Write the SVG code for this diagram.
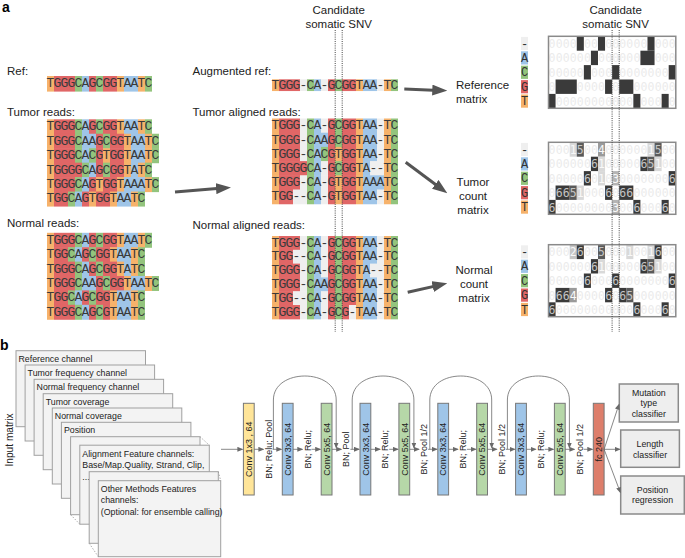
<svg xmlns="http://www.w3.org/2000/svg" width="685" height="558" viewBox="0 0 685 558">
<style>
text{font-family:"Liberation Sans",Arial,Helvetica,sans-serif;fill:#222}
.lbl{font-size:11.5px}
.hd{font-size:14px;font-weight:bold;fill:#000}
.seq{font-family:"Liberation Mono","Courier New",monospace;font-size:13px;letter-spacing:-0.8px;fill:#3a3a3a}
.t{fill:#f6b26b}.g{fill:#e06666}.c{fill:#93c47d}.a{fill:#9fc5e8}.d{fill:#efefef}
.mx{font-family:"DejaVu Sans Mono",monospace;font-size:11.5px;fill:#ebebeb;text-anchor:middle}
.nd{fill:#c4c4c4}.nl{fill:#f8f8f8}
.m1{fill:#d9d9d9}.m2{fill:#c6c6c6}.m3{fill:#b5b5b5}.m4{fill:#9a9a9a}.m5{fill:#5a5a5a}.m6{fill:#3a3a3a}
.frame{fill:none;stroke:#8a8a8a;stroke-width:1.5}
.rl{font-family:"Liberation Mono","Courier New",monospace;font-size:12px;fill:#333;text-anchor:middle}
.dot{stroke:#444;stroke-width:1;stroke-dasharray:1 1.2;fill:none}
.big{stroke:#555;stroke-width:3;fill:none;marker-end:url(#bh)}
.thin{stroke:#6a6a6a;stroke-width:0.8;fill:none;marker-end:url(#th)}
.card{fill:#f3f3f3;stroke:#a0a0a0;stroke-width:1}
.ct{font-size:8.8px}
.nt{font-size:9px;text-anchor:middle}
.out{fill:#eeeeee;stroke:#8a8a8a;stroke-width:1.5}
.diag{stroke:#999;stroke-width:0.8;stroke-dasharray:1.5 1.5;fill:none}
.cv{stroke:#777;stroke-width:1}
.y{fill:#ffe599}.b3{fill:#9fc5e8}.g5{fill:#b6d7a8}.fc{fill:#dd7e6b}
.oc{font-size:8.8px;text-anchor:middle}
.mid{text-anchor:middle}
.side{font-size:10.2px;text-anchor:middle}
</style>
<defs>
<marker id="bh" markerUnits="userSpaceOnUse" markerWidth="15" markerHeight="11" refX="7" refY="5.5" orient="auto"><path d="M0,0L15,5.5L0,11z" fill="#555"/></marker>
<marker id="th" markerUnits="userSpaceOnUse" markerWidth="6" markerHeight="5" refX="5" refY="2.5" orient="auto"><path d="M0,0L6,2.5L0,5z" fill="#6a6a6a"/></marker>
<g id="pRef"><rect class="t" x="0" width="1" height="1.04"/><rect class="g" x="1" width="3" height="1.04"/><rect class="c" x="4" width="1" height="1.04"/><rect class="a" x="5" width="1" height="1.04"/><rect class="g" x="6" width="1" height="1.04"/><rect class="c" x="7" width="1" height="1.04"/><rect class="g" x="8" width="2" height="1.04"/><rect class="t" x="10" width="1" height="1.04"/><rect class="a" x="11" width="2" height="1.04"/><rect class="t" x="13" width="1" height="1.04"/><rect class="c" x="14" width="1" height="1.04"/></g>
<g id="pT2"><rect class="t" x="0" width="1" height="1.04"/><rect class="g" x="1" width="3" height="1.04"/><rect class="c" x="4" width="1" height="1.04"/><rect class="a" x="5" width="2" height="1.04"/><rect class="g" x="7" width="1" height="1.04"/><rect class="c" x="8" width="1" height="1.04"/><rect class="g" x="9" width="2" height="1.04"/><rect class="t" x="11" width="1" height="1.04"/><rect class="a" x="12" width="2" height="1.04"/><rect class="t" x="14" width="1" height="1.04"/><rect class="c" x="15" width="1" height="1.04"/></g>
<g id="pT3"><rect class="t" x="0" width="1" height="1.04"/><rect class="g" x="1" width="3" height="1.04"/><rect class="c" x="4" width="1" height="1.04"/><rect class="a" x="5" width="1" height="1.04"/><rect class="c" x="6" width="1" height="1.04"/><rect class="g" x="7" width="1" height="1.04"/><rect class="t" x="8" width="1" height="1.04"/><rect class="g" x="9" width="2" height="1.04"/><rect class="t" x="11" width="1" height="1.04"/><rect class="a" x="12" width="2" height="1.04"/><rect class="t" x="14" width="1" height="1.04"/><rect class="c" x="15" width="1" height="1.04"/></g>
<g id="pT4"><rect class="t" x="0" width="1" height="1.04"/><rect class="g" x="1" width="4" height="1.04"/><rect class="c" x="5" width="1" height="1.04"/><rect class="a" x="6" width="1" height="1.04"/><rect class="g" x="7" width="1" height="1.04"/><rect class="c" x="8" width="1" height="1.04"/><rect class="g" x="9" width="2" height="1.04"/><rect class="t" x="11" width="1" height="1.04"/><rect class="a" x="12" width="1" height="1.04"/><rect class="t" x="13" width="1" height="1.04"/><rect class="c" x="14" width="1" height="1.04"/></g>
<g id="pT5"><rect class="t" x="0" width="1" height="1.04"/><rect class="g" x="1" width="3" height="1.04"/><rect class="c" x="4" width="1" height="1.04"/><rect class="a" x="5" width="1" height="1.04"/><rect class="g" x="6" width="1" height="1.04"/><rect class="t" x="7" width="1" height="1.04"/><rect class="g" x="8" width="2" height="1.04"/><rect class="t" x="10" width="1" height="1.04"/><rect class="a" x="11" width="3" height="1.04"/><rect class="t" x="14" width="1" height="1.04"/><rect class="c" x="15" width="1" height="1.04"/></g>
<g id="pT6"><rect class="t" x="0" width="1" height="1.04"/><rect class="g" x="1" width="2" height="1.04"/><rect class="c" x="3" width="1" height="1.04"/><rect class="a" x="4" width="1" height="1.04"/><rect class="g" x="5" width="1" height="1.04"/><rect class="t" x="6" width="1" height="1.04"/><rect class="g" x="7" width="2" height="1.04"/><rect class="t" x="9" width="1" height="1.04"/><rect class="a" x="10" width="2" height="1.04"/><rect class="t" x="12" width="1" height="1.04"/><rect class="c" x="13" width="1" height="1.04"/></g>
<g id="pN2"><rect class="t" x="0" width="1" height="1.04"/><rect class="g" x="1" width="2" height="1.04"/><rect class="c" x="3" width="1" height="1.04"/><rect class="a" x="4" width="1" height="1.04"/><rect class="g" x="5" width="1" height="1.04"/><rect class="c" x="6" width="1" height="1.04"/><rect class="g" x="7" width="2" height="1.04"/><rect class="t" x="9" width="1" height="1.04"/><rect class="a" x="10" width="2" height="1.04"/><rect class="t" x="12" width="1" height="1.04"/><rect class="c" x="13" width="1" height="1.04"/></g>
<g id="pN3"><rect class="t" x="0" width="1" height="1.04"/><rect class="g" x="1" width="3" height="1.04"/><rect class="c" x="4" width="1" height="1.04"/><rect class="a" x="5" width="1" height="1.04"/><rect class="g" x="6" width="1" height="1.04"/><rect class="c" x="7" width="1" height="1.04"/><rect class="g" x="8" width="2" height="1.04"/><rect class="t" x="10" width="1" height="1.04"/><rect class="a" x="11" width="1" height="1.04"/><rect class="t" x="12" width="1" height="1.04"/><rect class="c" x="13" width="1" height="1.04"/></g>
<g id="pN6"><rect class="t" x="0" width="1" height="1.04"/><rect class="g" x="1" width="3" height="1.04"/><rect class="c" x="4" width="1" height="1.04"/><rect class="a" x="5" width="1" height="1.04"/><rect class="g" x="6" width="1" height="1.04"/><rect class="c" x="7" width="1" height="1.04"/><rect class="g" x="8" width="1" height="1.04"/><rect class="t" x="9" width="1" height="1.04"/><rect class="a" x="10" width="2" height="1.04"/><rect class="t" x="12" width="1" height="1.04"/><rect class="c" x="13" width="1" height="1.04"/></g>
<g id="mRef"><rect class="t" x="0" width="1" height="1.04"/><rect class="g" x="1" width="3" height="1.04"/><rect class="d" x="4" width="1" height="1.04"/><rect class="c" x="5" width="1" height="1.04"/><rect class="a" x="6" width="1" height="1.04"/><rect class="d" x="7" width="1" height="1.04"/><rect class="g" x="8" width="1" height="1.04"/><rect class="c" x="9" width="1" height="1.04"/><rect class="g" x="10" width="2" height="1.04"/><rect class="t" x="12" width="1" height="1.04"/><rect class="a" x="13" width="2" height="1.04"/><rect class="d" x="15" width="1" height="1.04"/><rect class="t" x="16" width="1" height="1.04"/><rect class="c" x="17" width="1" height="1.04"/></g>
<g id="mT2"><rect class="t" x="0" width="1" height="1.04"/><rect class="g" x="1" width="3" height="1.04"/><rect class="d" x="4" width="1" height="1.04"/><rect class="c" x="5" width="1" height="1.04"/><rect class="a" x="6" width="2" height="1.04"/><rect class="g" x="8" width="1" height="1.04"/><rect class="c" x="9" width="1" height="1.04"/><rect class="g" x="10" width="2" height="1.04"/><rect class="t" x="12" width="1" height="1.04"/><rect class="a" x="13" width="2" height="1.04"/><rect class="d" x="15" width="1" height="1.04"/><rect class="t" x="16" width="1" height="1.04"/><rect class="c" x="17" width="1" height="1.04"/></g>
<g id="mT3"><rect class="t" x="0" width="1" height="1.04"/><rect class="g" x="1" width="3" height="1.04"/><rect class="d" x="4" width="1" height="1.04"/><rect class="c" x="5" width="1" height="1.04"/><rect class="a" x="6" width="1" height="1.04"/><rect class="c" x="7" width="1" height="1.04"/><rect class="g" x="8" width="1" height="1.04"/><rect class="t" x="9" width="1" height="1.04"/><rect class="g" x="10" width="2" height="1.04"/><rect class="t" x="12" width="1" height="1.04"/><rect class="a" x="13" width="2" height="1.04"/><rect class="d" x="15" width="1" height="1.04"/><rect class="t" x="16" width="1" height="1.04"/><rect class="c" x="17" width="1" height="1.04"/></g>
<g id="mT4"><rect class="t" x="0" width="1" height="1.04"/><rect class="g" x="1" width="4" height="1.04"/><rect class="c" x="5" width="1" height="1.04"/><rect class="a" x="6" width="1" height="1.04"/><rect class="d" x="7" width="1" height="1.04"/><rect class="g" x="8" width="1" height="1.04"/><rect class="c" x="9" width="1" height="1.04"/><rect class="g" x="10" width="2" height="1.04"/><rect class="t" x="12" width="1" height="1.04"/><rect class="a" x="13" width="1" height="1.04"/><rect class="d" x="14" width="2" height="1.04"/><rect class="t" x="16" width="1" height="1.04"/><rect class="c" x="17" width="1" height="1.04"/></g>
<g id="mT5"><rect class="t" x="0" width="1" height="1.04"/><rect class="g" x="1" width="3" height="1.04"/><rect class="d" x="4" width="1" height="1.04"/><rect class="c" x="5" width="1" height="1.04"/><rect class="a" x="6" width="1" height="1.04"/><rect class="d" x="7" width="1" height="1.04"/><rect class="g" x="8" width="1" height="1.04"/><rect class="t" x="9" width="1" height="1.04"/><rect class="g" x="10" width="2" height="1.04"/><rect class="t" x="12" width="1" height="1.04"/><rect class="a" x="13" width="3" height="1.04"/><rect class="t" x="16" width="1" height="1.04"/><rect class="c" x="17" width="1" height="1.04"/></g>
<g id="mT6"><rect class="t" x="0" width="1" height="1.04"/><rect class="g" x="1" width="2" height="1.04"/><rect class="d" x="3" width="2" height="1.04"/><rect class="c" x="5" width="1" height="1.04"/><rect class="a" x="6" width="1" height="1.04"/><rect class="d" x="7" width="1" height="1.04"/><rect class="g" x="8" width="1" height="1.04"/><rect class="t" x="9" width="1" height="1.04"/><rect class="g" x="10" width="2" height="1.04"/><rect class="t" x="12" width="1" height="1.04"/><rect class="a" x="13" width="2" height="1.04"/><rect class="d" x="15" width="1" height="1.04"/><rect class="t" x="16" width="1" height="1.04"/><rect class="c" x="17" width="1" height="1.04"/></g>
<g id="mN2"><rect class="t" x="0" width="1" height="1.04"/><rect class="g" x="1" width="2" height="1.04"/><rect class="d" x="3" width="2" height="1.04"/><rect class="c" x="5" width="1" height="1.04"/><rect class="a" x="6" width="1" height="1.04"/><rect class="d" x="7" width="1" height="1.04"/><rect class="g" x="8" width="1" height="1.04"/><rect class="c" x="9" width="1" height="1.04"/><rect class="g" x="10" width="2" height="1.04"/><rect class="t" x="12" width="1" height="1.04"/><rect class="a" x="13" width="2" height="1.04"/><rect class="d" x="15" width="1" height="1.04"/><rect class="t" x="16" width="1" height="1.04"/><rect class="c" x="17" width="1" height="1.04"/></g>
<g id="mN3"><rect class="t" x="0" width="1" height="1.04"/><rect class="g" x="1" width="3" height="1.04"/><rect class="d" x="4" width="1" height="1.04"/><rect class="c" x="5" width="1" height="1.04"/><rect class="a" x="6" width="1" height="1.04"/><rect class="d" x="7" width="1" height="1.04"/><rect class="g" x="8" width="1" height="1.04"/><rect class="c" x="9" width="1" height="1.04"/><rect class="g" x="10" width="2" height="1.04"/><rect class="t" x="12" width="1" height="1.04"/><rect class="a" x="13" width="1" height="1.04"/><rect class="d" x="14" width="2" height="1.04"/><rect class="t" x="16" width="1" height="1.04"/><rect class="c" x="17" width="1" height="1.04"/></g>
<g id="mN6"><rect class="t" x="0" width="1" height="1.04"/><rect class="g" x="1" width="3" height="1.04"/><rect class="d" x="4" width="1" height="1.04"/><rect class="c" x="5" width="1" height="1.04"/><rect class="a" x="6" width="1" height="1.04"/><rect class="d" x="7" width="1" height="1.04"/><rect class="g" x="8" width="1" height="1.04"/><rect class="c" x="9" width="1" height="1.04"/><rect class="g" x="10" width="1" height="1.04"/><rect class="d" x="11" width="1" height="1.04"/><rect class="t" x="12" width="1" height="1.04"/><rect class="a" x="13" width="2" height="1.04"/><rect class="d" x="15" width="1" height="1.04"/><rect class="t" x="16" width="1" height="1.04"/><rect class="c" x="17" width="1" height="1.04"/></g>
</defs>
<rect width="685" height="558" fill="#fff"/>

<text class="hd" x="2" y="12">a</text>
<text class="hd" x="0" y="350">b</text>

<g id="ref-reads">
<text class="lbl" x="7" y="74.5">Ref:</text>
<g transform="translate(47,76) scale(7,15)"><use href="#pRef"/></g>
<text class="seq" x="46.6" y="87.2">TGGGCAGCGGTAATC</text>
</g>

<g id="tumor-reads">
<text class="lbl" x="7" y="116.3">Tumor reads:</text>
<g transform="translate(47,119.3) scale(7,14.45)"><use href="#pRef"/><use href="#pT2" y="1"/><use href="#pT3" y="2"/><use href="#pT4" y="3"/><use href="#pT5" y="4"/><use href="#pT6" y="5"/></g>
<text class="seq" x="46.6" y="130.2">TGGGCAGCGGTAATC</text>
<text class="seq" x="46.6" y="144.65">TGGGCAAGCGGTAATC</text>
<text class="seq" x="46.6" y="159.1">TGGGCACGTGGTAATC</text>
<text class="seq" x="46.6" y="173.55">TGGGGCAGCGGTATC</text>
<text class="seq" x="46.6" y="188">TGGGCAGTGGTAAATC</text>
<text class="seq" x="46.6" y="202.45">TGGCAGTGGTAATC</text>
</g>

<g id="normal-reads">
<text class="lbl" x="7" y="227.4">Normal reads:</text>
<g transform="translate(47,232.8) scale(7,14.4)"><use href="#pRef"/><use href="#pN2" y="1"/><use href="#pN3" y="2"/><use href="#pT2" y="3"/><use href="#pN2" y="4"/><use href="#pN6" y="5"/></g>
<text class="seq" x="46.6" y="243.7">TGGGCAGCGGTAATC</text>
<text class="seq" x="46.6" y="258.1">TGGCAGCGGTAATC</text>
<text class="seq" x="46.6" y="272.5">TGGGCAGCGGTATC</text>
<text class="seq" x="46.6" y="286.9">TGGGCAAGCGGTAATC</text>
<text class="seq" x="46.6" y="301.3">TGGCAGCGGTAATC</text>
<text class="seq" x="46.6" y="315.7">TGGGCAGCGTAATC</text>
</g>

<g id="augmented-ref">
<text class="lbl" x="192.5" y="74.5">Augmented ref:</text>
<g transform="translate(272,79.3) scale(7,11.3)"><use href="#mRef"/></g>
<text class="seq" x="271.6" y="88.7">TGGG-CA-GCGGTAA-TC</text>
</g>

<g id="tumor-aligned">
<text class="lbl" x="192.5" y="115.5">Tumor aligned reads:</text>
<g transform="translate(272,118.5) scale(7,14.2)"><use href="#mRef"/><use href="#mT2" y="1"/><use href="#mT3" y="2"/><use href="#mT4" y="3"/><use href="#mT5" y="4"/><use href="#mT6" y="5"/></g>
<text class="seq" x="271.6" y="129.3">TGGG-CA-GCGGTAA-TC</text>
<text class="seq" x="271.6" y="143.5">TGGG-CAAGCGGTAA-TC</text>
<text class="seq" x="271.6" y="157.7">TGGG-CACGTGGTAA-TC</text>
<text class="seq" x="271.6" y="171.9">TGGGGCA-GCGGTA--TC</text>
<text class="seq" x="271.6" y="186.1">TGGG-CA-GTGGTAAATC</text>
<text class="seq" x="271.6" y="200.3">TGG--CA-GTGGTAA-TC</text>
</g>

<g id="normal-aligned">
<text class="lbl" x="192.5" y="229">Normal aligned reads:</text>
<g transform="translate(272,236) scale(7,13.8)"><use href="#mRef"/><use href="#mN2" y="1"/><use href="#mN3" y="2"/><use href="#mT2" y="3"/><use href="#mN2" y="4"/><use href="#mN6" y="5"/></g>
<text class="seq" x="271.6" y="246.6">TGGG-CA-GCGGTAA-TC</text>
<text class="seq" x="271.6" y="260.4">TGG--CA-GCGGTAA-TC</text>
<text class="seq" x="271.6" y="274.2">TGGG-CA-GCGGTA--TC</text>
<text class="seq" x="271.6" y="288">TGGG-CAAGCGGTAA-TC</text>
<text class="seq" x="271.6" y="301.8">TGG--CA-GCGGTAA-TC</text>
<text class="seq" x="271.6" y="315.6">TGGG-CA-GCG-TAA-TC</text>
</g>

<g id="reference-matrix">
<g transform="translate(548.5,36.3) scale(7.07,14.4)" class="m6"><rect x="4" y="0" width="1" height="1"/><rect x="7" y="0" width="1" height="1"/><rect x="14" y="0" width="1" height="1"/><rect x="6" y="1" width="1" height="1"/><rect x="13" y="1" width="2" height="1"/><rect x="5" y="2" width="1" height="1"/><rect x="9" y="2" width="1" height="1"/><rect x="17" y="2" width="1" height="1"/><rect x="1" y="3" width="3" height="1"/><rect x="8" y="3" width="1" height="1"/><rect x="10" y="3" width="2" height="1"/><rect x="0" y="4" width="1" height="1"/><rect x="12" y="4" width="1" height="1"/><rect x="16" y="4" width="1" height="1"/></g>
<text class="mx" y="47.9" x="552 559.1 566.2 573.3 587.4 594.5 608.6 615.7 622.7 629.8 636.9 643.9 658.1 665.2 672.2">000000000000000</text>
<text class="mx" y="62.3" x="552 559.1 566.2 573.3 580.3 587.4 601.5 608.6 615.7 622.7 629.8 636.9 658.1 665.2 672.2">000000000000000</text>
<text class="mx" y="76.7" x="552 559.1 566.2 573.3 580.3 594.5 601.5 608.6 622.7 629.8 636.9 643.9 651 658.1 665.2">000000000000000</text>
<text class="mx" y="91.1" x="552 580.3 587.4 594.5 601.5 615.7 636.9 643.9 651 658.1 665.2 672.2">000000000000</text>
<text class="mx" y="105.5" x="559.1 566.2 573.3 580.3 587.4 594.5 601.5 608.6 615.7 622.7 629.8 643.9 651 658.1 672.2">000000000000000</text>
<rect class="frame" x="548.5" y="36.3" width="127.3" height="72"/>
<rect class="d" x="521" y="36.9" width="7" height="13.2"/><rect class="a" x="521" y="51.3" width="7" height="13.2"/><rect class="c" x="521" y="65.7" width="7" height="13.2"/><rect class="g" x="521" y="80.1" width="7" height="13.2"/><rect class="t" x="521" y="94.5" width="7" height="13.2"/>
<text class="rl" x="524.5" y="47.6">-</text><text class="rl" x="524.5" y="62">A</text><text class="rl" x="524.5" y="76.4">C</text><text class="rl" x="524.5" y="90.8">G</text><text class="rl" x="524.5" y="105.2">T</text>
<text class="lbl" x="456" y="89">Reference</text>
<text class="lbl" x="456" y="102.5">matrix</text>
</g>

<g id="tumor-count-matrix">
<g transform="translate(548.5,142.3) scale(7.07,14.4)"><rect class="m1" x="3" y="0" width="1" height="1"/><rect class="m5" x="4" y="0" width="1" height="1"/><rect class="m4" x="7" y="0" width="1" height="1"/><rect class="m1" x="14" y="0" width="1" height="1"/><rect class="m5" x="15" y="0" width="1" height="1"/><rect class="m6" x="6" y="1" width="1" height="1"/><rect class="m1" x="7" y="1" width="1" height="1"/><rect class="m6" x="13" y="1" width="1" height="1"/><rect class="m5" x="14" y="1" width="1" height="1"/><rect class="m1" x="15" y="1" width="1" height="1"/><rect class="m6" x="5" y="2" width="1" height="1"/><rect class="m1" x="7" y="2" width="1" height="1"/><rect class="m3" x="9" y="2" width="1" height="1"/><rect class="m6" x="17" y="2" width="1" height="1"/><rect class="m6" x="1" y="3" width="2" height="1"/><rect class="m5" x="3" y="3" width="1" height="1"/><rect class="m1" x="4" y="3" width="1" height="1"/><rect class="m6" x="8" y="3" width="1" height="1"/><rect class="m6" x="10" y="3" width="2" height="1"/><rect class="m6" x="0" y="4" width="1" height="1"/><rect class="m3" x="9" y="4" width="1" height="1"/><rect class="m6" x="12" y="4" width="1" height="1"/><rect class="m6" x="16" y="4" width="1" height="1"/></g>
<text class="mx" y="153.9" x="552 559.1 566.2 573.3 580.3 587.4 594.5 601.5 608.6 615.7 622.7 629.8 636.9 643.9 651 658.1 665.2 672.2">000<tspan class="nl">1</tspan><tspan class="nd">5</tspan>00<tspan class="nl">4</tspan>000000<tspan class="nl">1</tspan><tspan class="nd">5</tspan>00</text>
<text class="mx" y="168.3" x="552 559.1 566.2 573.3 580.3 587.4 594.5 601.5 608.6 615.7 622.7 629.8 636.9 643.9 651 658.1 665.2 672.2">000000<tspan class="nd">6</tspan><tspan class="nl">1</tspan>00000<tspan class="nd">65</tspan><tspan class="nl">1</tspan>00</text>
<text class="mx" y="182.7" x="552 559.1 566.2 573.3 580.3 587.4 594.5 601.5 608.6 615.7 622.7 629.8 636.9 643.9 651 658.1 665.2 672.2">00000<tspan class="nd">6</tspan>0<tspan class="nl">1</tspan>0<tspan class="nl">3</tspan>0000000<tspan class="nd">6</tspan></text>
<text class="mx" y="197.1" x="552 559.1 566.2 573.3 580.3 587.4 594.5 601.5 608.6 615.7 622.7 629.8 636.9 643.9 651 658.1 665.2 672.2">0<tspan class="nd">665</tspan><tspan class="nl">1</tspan>000<tspan class="nd">6</tspan>0<tspan class="nd">66</tspan>000000</text>
<text class="mx" y="211.5" x="552 559.1 566.2 573.3 580.3 587.4 594.5 601.5 608.6 615.7 622.7 629.8 636.9 643.9 651 658.1 665.2 672.2"><tspan class="nd">6</tspan>00000000<tspan class="nl">3</tspan>00<tspan class="nd">6</tspan>000<tspan class="nd">6</tspan>0</text>
<rect class="frame" x="548.5" y="142.3" width="127.3" height="72"/>
<rect class="d" x="521" y="142.9" width="7" height="13.2"/><rect class="a" x="521" y="157.3" width="7" height="13.2"/><rect class="c" x="521" y="171.7" width="7" height="13.2"/><rect class="g" x="521" y="186.1" width="7" height="13.2"/><rect class="t" x="521" y="200.5" width="7" height="13.2"/>
<text class="rl" x="524.5" y="153.6">-</text><text class="rl" x="524.5" y="168">A</text><text class="rl" x="524.5" y="182.4">C</text><text class="rl" x="524.5" y="196.8">G</text><text class="rl" x="524.5" y="211.2">T</text>
<text class="lbl mid" x="473" y="186">Tumor</text>
<text class="lbl mid" x="473" y="200">count</text>
<text class="lbl mid" x="473" y="214">matrix</text>
</g>

<g id="normal-count-matrix">
<g transform="translate(548.5,244.7) scale(7.07,14.4)"><rect class="m2" x="3" y="0" width="1" height="1"/><rect class="m6" x="4" y="0" width="1" height="1"/><rect class="m5" x="7" y="0" width="1" height="1"/><rect class="m1" x="11" y="0" width="1" height="1"/><rect class="m1" x="14" y="0" width="1" height="1"/><rect class="m6" x="15" y="0" width="1" height="1"/><rect class="m6" x="6" y="1" width="1" height="1"/><rect class="m1" x="7" y="1" width="1" height="1"/><rect class="m6" x="13" y="1" width="1" height="1"/><rect class="m5" x="14" y="1" width="1" height="1"/><rect class="m1" x="15" y="1" width="1" height="1"/><rect class="m6" x="5" y="2" width="1" height="1"/><rect class="m6" x="9" y="2" width="1" height="1"/><rect class="m6" x="17" y="2" width="1" height="1"/><rect class="m6" x="1" y="3" width="2" height="1"/><rect class="m4" x="3" y="3" width="1" height="1"/><rect class="m6" x="8" y="3" width="1" height="1"/><rect class="m6" x="10" y="3" width="1" height="1"/><rect class="m5" x="11" y="3" width="1" height="1"/><rect class="m6" x="0" y="4" width="1" height="1"/><rect class="m6" x="12" y="4" width="1" height="1"/><rect class="m6" x="16" y="4" width="1" height="1"/></g>
<text class="mx" y="256.3" x="552 559.1 566.2 573.3 580.3 587.4 594.5 601.5 608.6 615.7 622.7 629.8 636.9 643.9 651 658.1 665.2 672.2">000<tspan class="nl">2</tspan><tspan class="nd">6</tspan>00<tspan class="nd">5</tspan>000<tspan class="nl">1</tspan>00<tspan class="nl">1</tspan><tspan class="nd">6</tspan>00</text>
<text class="mx" y="270.7" x="552 559.1 566.2 573.3 580.3 587.4 594.5 601.5 608.6 615.7 622.7 629.8 636.9 643.9 651 658.1 665.2 672.2">000000<tspan class="nd">6</tspan><tspan class="nl">1</tspan>00000<tspan class="nd">65</tspan><tspan class="nl">1</tspan>00</text>
<text class="mx" y="285.1" x="552 559.1 566.2 573.3 580.3 587.4 594.5 601.5 608.6 615.7 622.7 629.8 636.9 643.9 651 658.1 665.2 672.2">00000<tspan class="nd">6</tspan>000<tspan class="nd">6</tspan>0000000<tspan class="nd">6</tspan></text>
<text class="mx" y="299.5" x="552 559.1 566.2 573.3 580.3 587.4 594.5 601.5 608.6 615.7 622.7 629.8 636.9 643.9 651 658.1 665.2 672.2">0<tspan class="nd">66</tspan><tspan class="nl">4</tspan>0000<tspan class="nd">6</tspan>0<tspan class="nd">65</tspan>000000</text>
<text class="mx" y="313.9" x="552 559.1 566.2 573.3 580.3 587.4 594.5 601.5 608.6 615.7 622.7 629.8 636.9 643.9 651 658.1 665.2 672.2"><tspan class="nd">6</tspan>00000000000<tspan class="nd">6</tspan>000<tspan class="nd">6</tspan>0</text>
<rect class="frame" x="548.5" y="244.7" width="127.3" height="72"/>
<rect class="d" x="521" y="245.3" width="7" height="13.2"/><rect class="a" x="521" y="259.7" width="7" height="13.2"/><rect class="c" x="521" y="274.1" width="7" height="13.2"/><rect class="g" x="521" y="288.5" width="7" height="13.2"/><rect class="t" x="521" y="302.9" width="7" height="13.2"/>
<text class="rl" x="524.5" y="256">-</text><text class="rl" x="524.5" y="270.4">A</text><text class="rl" x="524.5" y="284.8">C</text><text class="rl" x="524.5" y="299.2">G</text><text class="rl" x="524.5" y="313.6">T</text>
<text class="lbl mid" x="474" y="273.5">Normal</text>
<text class="lbl mid" x="474" y="287.5">count</text>
<text class="lbl mid" x="474" y="301.5">matrix</text>
</g>

<g id="candidate-labels">
<text class="lbl mid" x="338.7" y="14.2">Candidate</text>
<text class="lbl mid" x="338.7" y="27.5">somatic SNV</text>
<text class="lbl mid" x="615.6" y="14.2">Candidate</text>
<text class="lbl mid" x="615.6" y="27.5">somatic SNV</text>
<line class="dot" x1="335.2" y1="30" x2="335.2" y2="332"/>
<line class="dot" x1="342.2" y1="30" x2="342.2" y2="332"/>
<line class="dot" x1="612.1" y1="30" x2="612.1" y2="332"/>
<line class="dot" x1="619.2" y1="30" x2="619.2" y2="332"/>
</g>

<g id="input-stack">
<g id="ch1"><rect class="card" x="16" y="350.7" width="129.5" height="76"/><text class="ct" x="18.5" y="361.7">Reference channel</text></g>
<g id="ch2"><rect class="card" x="25.1" y="365" width="129.5" height="76"/><text class="ct" x="27.6" y="376">Tumor frequency channel</text></g>
<g id="ch3"><rect class="card" x="34.1" y="379.3" width="129.5" height="76"/><text class="ct" x="36.6" y="390.3">Normal frequency channel</text></g>
<g id="ch4"><rect class="card" x="43.2" y="393.7" width="129.5" height="76"/><text class="ct" x="45.7" y="404.7">Tumor coverage</text></g>
<g id="ch5"><rect class="card" x="52.3" y="408" width="129.5" height="76"/><text class="ct" x="54.8" y="419">Normal coverage</text></g>
<g id="ch6"><rect class="card" x="61.4" y="422.3" width="129.5" height="76"/><text class="ct" x="63.9" y="433.3">Position</text></g>
<g id="ch7"><rect class="card" x="70.6" y="436.7" width="129.4" height="78"/><rect class="card" x="79.8" y="445.2" width="129.5" height="79"/><line class="diag" x1="200" y1="436.7" x2="209.3" y2="445.2"/><line class="diag" x1="70.6" y1="514.7" x2="79.8" y2="524.2"/><text class="ct" x="82.3" y="456.5">Alignment Feature channels:</text><text class="ct" x="82.3" y="468.2">Base/Map.Quality, Strand, Clip,</text><text class="ct" x="82.3" y="479.9">...</text></g>
<g id="ch8"><rect class="card" x="89.2" y="471.7" width="129.1" height="71.6"/><rect class="card" x="98.3" y="480.7" width="122.4" height="76"/><line class="diag" x1="218.3" y1="471.7" x2="220.7" y2="480.7"/><line class="diag" x1="89.2" y1="543.3" x2="98.3" y2="556.7"/><text class="ct" x="100.8" y="491.5">Other Methods Features</text><text class="ct" x="100.8" y="503.2">channels:</text><text class="ct" x="100.8" y="514.9">(Optional: for ensemble calling)</text></g>
<text class="side" transform="translate(13.2,440) rotate(-90)">Input matrix</text>
</g>

<g id="network">
<g id="conv1"><rect class="cv y" x="243.4" y="403.3" width="10.8" height="91.7"/><text class="nt" transform="translate(252,449.2) rotate(-90)">Conv 1x3 , 64</text></g>
<g id="conv2"><rect class="cv b3" x="282.3" y="403.3" width="10.8" height="91.7"/><text class="nt" transform="translate(290.9,449.2) rotate(-90)">Conv 3x3, 64</text></g>
<g id="conv3"><rect class="cv g5" x="321.2" y="403.3" width="10.8" height="91.7"/><text class="nt" transform="translate(329.8,449.2) rotate(-90)">Conv 5x5, 64</text></g>
<g id="conv4"><rect class="cv b3" x="360" y="403.3" width="10.8" height="91.7"/><text class="nt" transform="translate(368.6,449.2) rotate(-90)">Conv 3x3, 64</text></g>
<g id="conv5"><rect class="cv g5" x="398.9" y="403.3" width="10.8" height="91.7"/><text class="nt" transform="translate(407.5,449.2) rotate(-90)">Conv 5x5, 64</text></g>
<g id="conv6"><rect class="cv b3" x="437.8" y="403.3" width="10.8" height="91.7"/><text class="nt" transform="translate(446.4,449.2) rotate(-90)">Conv 3x3, 64</text></g>
<g id="conv7"><rect class="cv g5" x="476.7" y="403.3" width="10.8" height="91.7"/><text class="nt" transform="translate(485.3,449.2) rotate(-90)">Conv 5x5, 64</text></g>
<g id="conv8"><rect class="cv b3" x="515.6" y="403.3" width="10.8" height="91.7"/><text class="nt" transform="translate(524.2,449.2) rotate(-90)">Conv 3x3, 64</text></g>
<g id="conv9"><rect class="cv g5" x="554.4" y="403.3" width="10.8" height="91.7"/><text class="nt" transform="translate(563,449.2) rotate(-90)">Conv 5x5, 64</text></g>
<g id="fc"><rect class="cv fc" x="593.3" y="403.3" width="10.8" height="91.7"/><text class="nt" transform="translate(601.9,449.2) rotate(-90)">fc 240</text></g>
<g id="layer-labels">
<text class="nt" transform="translate(271.6,449.2) rotate(-90)">BN; Relu; Pool</text>
<text class="nt" transform="translate(310.5,449.2) rotate(-90)">BN; Relu;</text>
<text class="nt" transform="translate(349.4,449.2) rotate(-90)">BN; Pool</text>
<text class="nt" transform="translate(388.2,449.2) rotate(-90)">BN; Relu;</text>
<text class="nt" transform="translate(427.1,449.2) rotate(-90)">BN; Pool 1/2</text>
<text class="nt" transform="translate(466,449.2) rotate(-90)">BN; Relu;</text>
<text class="nt" transform="translate(504.9,449.2) rotate(-90)">BN; Pool 1/2</text>
<text class="nt" transform="translate(543.8,449.2) rotate(-90)">BN; Relu;</text>
<text class="nt" transform="translate(582.6,449.2) rotate(-90)">BN; Pool 1/2</text>
</g>
<g id="out-mutation"><rect class="out" x="619.3" y="384" width="59" height="38"/><text class="oc" x="648.8" y="395.5">Mutation</text><text class="oc" x="648.8" y="406">type</text><text class="oc" x="648.8" y="416.5">classifier</text></g>
<g id="out-length"><rect class="out" x="620.7" y="430" width="58.7" height="37.3"/><text class="oc" x="650" y="446.5">Length</text><text class="oc" x="650" y="457.5">classifier</text></g>
<g id="out-position"><rect class="out" x="620.7" y="476" width="63.6" height="38"/><text class="oc" x="652.5" y="492.5">Position</text><text class="oc" x="652.5" y="503.3">regression</text></g>
</g>

<g id="connectors">
<path class="big" d="M175,192L223,188.1"/>
<path class="big" d="M404.3,89L439.3,90.4"/>
<path class="big" d="M405.7,162.3L440.9,188.5"/>
<path class="big" d="M407.7,292.3L439.5,285.1"/>
<path class="thin" d="M221,449.3H242.4"/>
<path class="thin" d="M254.2,449.3H263.4"/><path class="thin" d="M272.6,449.3H281.3"/>
<path class="thin" d="M293.1,449.3H302.3"/><path class="thin" d="M311.5,449.3H320.2"/>
<path class="thin" d="M332,449.3H341.2"/><path class="thin" d="M350.4,449.3H359"/>
<path class="thin" d="M370.8,449.3H380"/><path class="thin" d="M389.2,449.3H397.9"/>
<path class="thin" d="M409.7,449.3H418.9"/><path class="thin" d="M428.1,449.3H436.8"/>
<path class="thin" d="M448.6,449.3H457.8"/><path class="thin" d="M467,449.3H475.7"/>
<path class="thin" d="M487.5,449.3H496.7"/><path class="thin" d="M505.9,449.3H514.6"/>
<path class="thin" d="M526.4,449.3H535.6"/><path class="thin" d="M544.8,449.3H553.4"/>
<path class="thin" d="M565.2,449.3H574.4"/><path class="thin" d="M583.6,449.3H592.3"/>
<path class="thin" d="M273.4,449.3V400C273.4,368 336.2,368 336.2,400V447.5"/>
<path class="thin" d="M352.2,449.3V400C352.2,368 413.9,368 413.9,400V447.5"/>
<path class="thin" d="M429.8,449.3V400C429.8,368 491.7,368 491.7,400V447.5"/>
<path class="thin" d="M507.4,449.3V400C507.4,368 569.4,368 569.4,400V447.5"/>
<path class="thin" d="M604.1,449.3L618.9,404.6"/>
<path class="thin" d="M604.1,449.3H619.7"/>
<path class="thin" d="M604.1,449.3L620.3,492.4"/>
</g>
</svg>
